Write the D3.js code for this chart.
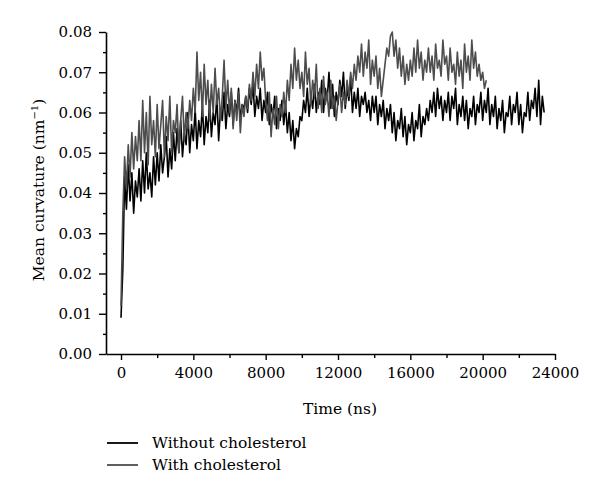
<!DOCTYPE html>
<html>
<head>
<meta charset="utf-8">
<script src="https://cdn.jsdelivr.net/npm/d3@7"></script>
<style>
  body { margin: 0; background: #fff; }
  svg { display: block; }
</style>
</head>
<body>
<div class="chart"></div>
<script>
// sampling step of both series, ns
let step = 100;

// Without cholesterol (nm^-1), one value per 100 ns from t = 0
let withoutChol = [
  .009, .021, .044, .036, .047, .038, .045, .035, .043, .039,
  .046, .038, .048, .040, .050, .041, .045, .039, .049, .042,
  .050, .043, .052, .045, .049, .054, .044, .051, .046, .055,
  .048, .056, .050, .058, .049, .055, .052, .060, .050, .057,
  .053, .061, .051, .058, .054, .062, .052, .059, .055, .063,
  .054, .060, .057, .064, .053, .061, .058, .065, .056, .062,
  .059, .065, .057, .063, .060, .066, .058, .062, .061, .064,
  .060, .066, .062, .067, .059, .064, .061, .066, .058, .063,
  .060, .065, .057, .062, .059, .064, .056, .061, .058, .063,
  .057, .062, .055, .060, .053, .058, .051, .056, .054, .059,
  .058, .063, .060, .066, .059, .064, .061, .067, .060, .065,
  .062, .068, .060, .066, .063, .070, .061, .067, .059, .065,
  .062, .068, .064, .070, .061, .066, .063, .069, .060, .065,
  .061, .066, .059, .064, .062, .065, .060, .063, .058, .064,
  .060, .064, .057, .062, .059, .063, .056, .061, .058, .062,
  .055, .060, .053, .058, .056, .061, .054, .059, .052, .057,
  .055, .060, .053, .058, .056, .062, .054, .059, .057, .061,
  .058, .063, .060, .065, .059, .066, .061, .064, .058, .063,
  .060, .065, .058, .064, .061, .066, .057, .062, .059, .064,
  .058, .063, .056, .061, .059, .064, .057, .062, .060, .065,
  .058, .063, .060, .066, .057, .062, .059, .064, .056, .061,
  .058, .063, .055, .060, .059, .064, .057, .062, .060, .065,
  .057, .062, .055, .060, .059, .065, .058, .063, .061, .066,
  .059, .068, .057, .064, .060
];

// With cholesterol (nm^-1), one value per 100 ns from t = 0
let withChol = [
  .012, .035, .049, .041, .052, .044, .055, .046, .054, .048,
  .058, .048, .063, .050, .060, .047, .064, .052, .058, .049,
  .062, .051, .057, .063, .049, .059, .053, .064, .050, .058,
  .055, .062, .050, .058, .064, .053, .060, .056, .063, .058,
  .066, .060, .075, .063, .070, .059, .072, .062, .068, .058,
  .067, .060, .071, .062, .066, .058, .064, .073, .061, .068,
  .060, .066, .056, .063, .058, .065, .055, .062, .059, .064,
  .061, .067, .063, .070, .064, .072, .066, .075, .068, .071,
  .063, .058, .065, .054, .061, .057, .064, .056, .062, .059,
  .065, .060, .068, .063, .072, .066, .076, .068, .073, .066,
  .070, .064, .075, .067, .071, .062, .068, .064, .072, .061,
  .066, .060, .069, .062, .065, .059, .068, .061, .064, .058,
  .063, .067, .060, .065, .062, .068, .064, .070, .066, .072,
  .068, .074, .070, .077, .069, .075, .071, .078, .067, .073,
  .069, .074, .066, .071, .064, .068, .072, .076, .074, .079,
  .080, .074, .078, .071, .076, .069, .074, .067, .072, .068,
  .073, .069, .076, .070, .078, .071, .075, .068, .073, .070,
  .076, .070, .074, .068, .077, .071, .073, .069, .078, .072,
  .074, .068, .076, .070, .072, .067, .075, .069, .073, .066,
  .077, .070, .074, .068, .078, .071, .075, .069, .072, .068,
  .070, .066, .068
];

let xTicks = [0, 4000, 8000, 12000, 16000, 20000, 24000];
let yTicks = [0, 0.01, 0.02, 0.03, 0.04, 0.05, 0.06, 0.07, 0.08];
let seriesNames = ['Without cholesterol', 'With cholesterol'];

let width = 600, height = 499;
let margin = { left: 106, top: 32, right: 45, bottom: 145 };
let font = '"DejaVu Serif", "Liberation Serif", serif';
let colors = ['#000000', '#4d4d4d'];

let svg = d3.select('div.chart').append('svg')
  .attr('width', width).attr('height', height);

let x = d3.scaleLinear()
  .domain([-830, 24000])
  .range([margin.left, width - margin.right]);

let y = d3.scaleLinear()
  .domain([0, 0.08])
  .range([height - margin.bottom, margin.top]);

let line = d3.line()
  .x((d, i) => x(i * step))
  .y(d => y(d));

// series
svg.append('path')
  .attr('d', line(withoutChol))
  .attr('fill', 'none')
  .attr('stroke', colors[0])
  .attr('stroke-width', 1.6)
  .attr('stroke-linejoin', 'round');

svg.append('path')
  .attr('d', line(withChol))
  .attr('fill', 'none')
  .attr('stroke', colors[1])
  .attr('stroke-width', 1.6)
  .attr('stroke-linejoin', 'round');

// x axis
let xMinor = d3.range(2000, 24000, 4000);
let gx = svg.append('g')
  .attr('transform', 'translate(0,' + y(0) + ')');
gx.call(d3.axisBottom(x).tickValues(xTicks).tickSize(6).tickSizeOuter(0).tickPadding(7)
  .tickFormat(d3.format('d')));
gx.append('g').call(d3.axisBottom(x).tickValues(xMinor).tickSize(4).tickFormat(''))
  .select('.domain').remove();

// y axis
let yMinor = d3.range(0.005, 0.08, 0.01);
let gy = svg.append('g')
  .attr('transform', 'translate(' + margin.left + ',0)');
gy.call(d3.axisLeft(y).tickValues(yTicks).tickSize(7).tickSizeOuter(0).tickPadding(7)
  .tickFormat(d3.format('.2f')));
gy.append('g').call(d3.axisLeft(y).tickValues(yMinor).tickSize(3).tickFormat(''))
  .select('.domain').remove();

svg.selectAll('.domain').attr('stroke', '#000').attr('stroke-width', 1.6);
svg.selectAll('.tick line').attr('stroke', '#000').attr('stroke-width', 1.4);
svg.selectAll('.tick text')
  .attr('font-family', font)
  .attr('font-size', '15px')
  .attr('fill', '#000');

// axis titles
svg.append('text')
  .attr('x', x(12000) + 2)
  .attr('y', 414)
  .attr('text-anchor', 'middle')
  .attr('font-family', font)
  .attr('font-size', '15.5px')
  .attr('fill', '#000')
  .text('Time (ns)');

let yTitle = svg.append('text')
  .attr('transform', 'translate(44,190) rotate(-90)')
  .attr('text-anchor', 'middle')
  .attr('font-family', font)
  .attr('font-size', '15.5px')
  .attr('fill', '#000');
yTitle.append('tspan').text('Mean curvature (nm');
yTitle.append('tspan').attr('dy', -6).attr('font-size', '10px').text('\u22121');
yTitle.append('tspan').attr('dy', 6).text(')');

// legend
let legend = svg.append('g');
seriesNames.forEach(function(name, i) {
  let ly = 443 + i * 22;
  legend.append('line')
    .attr('x1', 107).attr('x2', 138)
    .attr('y1', ly).attr('y2', ly)
    .attr('stroke', colors[i])
    .attr('stroke-width', 1.8);
  legend.append('text')
    .attr('x', 152).attr('y', ly + 5)
    .attr('font-family', font)
    .attr('font-size', '15.5px')
    .attr('fill', '#000')
    .text(name);
});
</script>
</body>
</html>
